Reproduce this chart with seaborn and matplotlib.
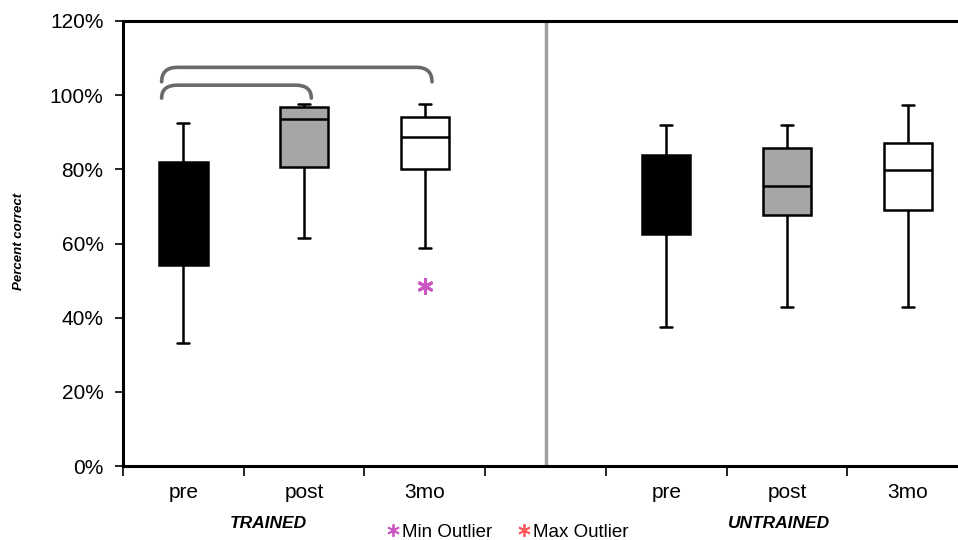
import numpy as np
import pandas as pd
import matplotlib
matplotlib.use("Agg")
import matplotlib.pyplot as plt
import seaborn as sns
from matplotlib.path import Path
from matplotlib.patches import PathPatch
from matplotlib.lines import Line2D
from matplotlib.ticker import FuncFormatter, FixedLocator
from matplotlib import font_manager

# ---------------- data (percent correct) ----------------
groups = ["TRAINED", "UNTRAINED"]
times = ["pre", "post", "3mo"]
# per box: lower whisker, Q1, median, Q3, upper whisker  (order: pre, post, 3mo)
trained_low = [33.3, 61.4, 58.9]
trained_q1 = [54.2, 80.6, 80.2]
trained_med = [68.0, 93.7, 88.6]
trained_q3 = [82.1, 96.7, 94.2]
trained_high = [92.4, 97.5, 97.5]
untrained_low = [37.6, 43.0, 43.0]
untrained_q1 = [62.6, 67.6, 69.0]
untrained_med = [72.0, 75.5, 79.7]
untrained_q3 = [83.8, 85.7, 87.1]
untrained_high = [91.9, 91.9, 97.3]
# outliers
min_outlier_cat = ["TRAINED|3mo"]
min_outlier_val = [48.5]
yticks = [0, 20, 40, 60, 80, 100, 120]
legend_labels = ["Min Outlier", "Max Outlier"]

fill_colors = {"pre": "#000000", "post": "#A6A6A6", "3mo": "#FFFFFF"}
min_col = "#CC55C4"
max_col = "#FF5A5A"

# ---------------- build long table ----------------
rows = []
stats = {
    "TRAINED": (trained_low, trained_q1, trained_med, trained_q3, trained_high),
    "UNTRAINED": (untrained_low, untrained_q1, untrained_med, untrained_q3, untrained_high),
}
for g in groups:
    for i, t in enumerate(times):
        for arr in stats[g]:
            rows.append({"slot": f"{g}|{t}", "time": t, "value": arr[i]})
df = pd.DataFrame(rows)
order = [f"TRAINED|{t}" for t in times] + ["gap"] + [f"UNTRAINED|{t}" for t in times]

# ---------------- figure ----------------
sns.set_style("white")
plt.rcParams["font.family"] = ["Liberation Sans", "DejaVu Sans"]
plt.rcParams["text.color"] = "black"
plt.rcParams["xtick.color"] = "black"
plt.rcParams["ytick.color"] = "black"

available = {f.name for f in font_manager.fontManager.ttflist}
narrow = "Liberation Sans Narrow" if "Liberation Sans Narrow" in available else None

fig = plt.figure(figsize=(9.58, 5.40), dpi=100)
ax = fig.add_axes([123 / 958, 1 - 466 / 540, (968 - 123) / 958, (466 - 21) / 540])

sns.boxplot(
    data=df, x="slot", y="value", order=order, hue="time", palette=fill_colors,
    hue_order=times, dodge=False, legend=False, whis=np.inf, width=0.4,
    linecolor="black", linewidth=1.8, ax=ax, showfliers=False,
)

# shorten caps
for ln in ax.lines:
    xd = np.asarray(ln.get_xdata(), dtype=float)
    yd = np.asarray(ln.get_ydata(), dtype=float)
    if len(xd) == 2 and yd[0] == yd[1] and abs(xd[1] - xd[0]) > 0:
        c = xd.mean()
        w = abs(xd[1] - xd[0])
        if w < 0.39:
            ln.set_xdata([c - 0.05, c + 0.05])

# outlier
out_df = pd.DataFrame({"slot": min_outlier_cat, "value": min_outlier_val})
sns.stripplot(data=out_df, x="slot", y="value", order=order, jitter=False,
              marker=(6, 2, 0), color=min_col, s=10, linewidth=2.2,
              edgecolor=min_col, ax=ax)

# divider
ax.axvline(3, color="#A0A0A0", lw=2.5, zorder=0.5)

# brackets
def bracket(x0, x1, ylow, ytop, r=0.13):
    verts = [(x0, ylow), (x0, ytop), (x0 + r, ytop), (x1 - r, ytop), (x1, ytop), (x1, ylow)]
    codes = [Path.MOVETO, Path.CURVE3, Path.CURVE3, Path.LINETO, Path.CURVE3, Path.CURVE3]
    ax.add_patch(PathPatch(Path(verts, codes), fill=False, ec="#6A6A6A", lw=2.6,
                           capstyle="round", clip_on=False))

bracket(-0.18, 1.06, 99.2, 102.7)
bracket(-0.18, 2.06, 103.6, 107.5)

# axes
ax.set_xlim(-0.5, 6.5)
ax.set_ylim(0, 120)
ax.set_yticks(yticks)
ax.yaxis.set_major_formatter(FuncFormatter(lambda v, p: f"{v:.0f}%"))
ax.tick_params(axis="y", length=6, width=1.2, pad=8, labelsize=15, direction="out", left=True)
ax.set_ylabel("")
ax.set_xlabel("")

ax.xaxis.set_major_locator(FixedLocator(np.arange(-0.5, 7.0, 1.0)))
ax.xaxis.set_major_formatter(FuncFormatter(lambda v, p: ""))
ax.set_xticks([0, 1, 2, 4, 5, 6], labels=times + times, minor=True)
ax.tick_params(axis="x", which="major", length=7, width=1.2, direction="out", bottom=True)
ax.tick_params(axis="x", which="minor", length=0, pad=12, labelsize=15, bottom=True)

for s in ["left", "bottom", "top", "right"]:
    ax.spines[s].set_linewidth(2.2)
    ax.spines[s].set_color("black")

# group labels
fig.text(268 / 958, 1 - 524 / 540, "TRAINED", ha="center", va="center",
         fontsize=12.5, fontweight="bold", fontstyle="italic")
fig.text(779 / 958, 1 - 524 / 540, "UNTRAINED", ha="center", va="center",
         fontsize=12.5, fontweight="bold", fontstyle="italic")
if narrow:
    fig.text(19 / 958, 1 - 241 / 540, "Percent correct", ha="center", va="center",
             rotation=90, fontsize=11.5, fontweight="bold", fontstyle="italic",
             family=[narrow, "Liberation Sans"])
else:
    fig.text(19 / 958, 1 - 241 / 540, "Percent correct", ha="center", va="center",
             rotation=90, fontsize=9.5, fontweight="bold", fontstyle="italic")

handles = [
    Line2D([], [], ls="none", marker=(6, 2, 0), color=min_col, markersize=9, mew=1.3),
    Line2D([], [], ls="none", marker=(6, 2, 0), color=max_col, markersize=9, mew=1.3),
]
fig.legend(handles, legend_labels, loc="center", bbox_to_anchor=(506 / 958, 1 - 532 / 540),
           ncol=2, frameon=False, fontsize=13.5, handletextpad=0.0, columnspacing=1.2,
           handlelength=1.0, borderaxespad=0, borderpad=0)

fig.savefig("out.png", dpi=100)
